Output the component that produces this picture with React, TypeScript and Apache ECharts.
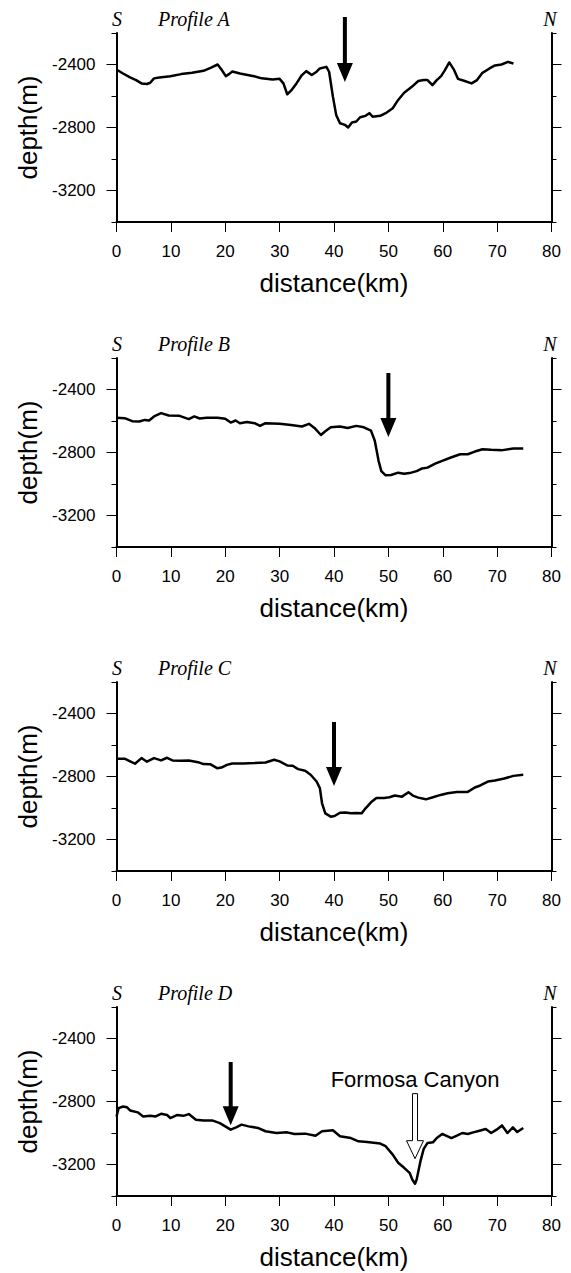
import React, { useEffect, useRef } from "react";
import * as echarts from "echarts";

// ---------- data ----------
const panelNames = ["Profile A", "Profile B", "Profile C", "Profile D"];
const yMajorTicks = [-3200, -2800, -2400];
const yMinorTicks = [-3400, -3000, -2600, -2200];

const distA = [0, 1.2, 2.5, 3.6, 4.6, 5.6, 6.2, 6.9, 7.9, 9.9, 11.9, 13.9, 16, 17.3, 18.6, 19.3, 20.1, 20.7, 21.3, 22.7, 25.3, 26.7, 28.7, 30.0, 30.7, 31.4, 32.1, 33.1, 34.1, 34.9, 35.9, 36.8, 37.4, 38.6, 39.1, 39.8, 40.4, 41.1, 42.0, 42.6, 43.3, 44.1, 44.8, 45.8, 46.5, 47.1, 48.5, 49.5, 50.8, 51.8, 52.9, 54.2, 55.5, 56.5, 57.2, 58.1, 58.9, 59.7, 60.4, 61.2, 62.1, 62.8, 63.9, 65.3, 66.3, 67.3, 68.6, 69.6, 70.8, 72.0, 73.0];
const depthA = [-2432, -2457, -2482, -2499, -2520, -2524, -2516, -2488, -2482, -2474, -2461, -2453, -2440, -2421, -2400, -2432, -2474, -2461, -2444, -2457, -2474, -2488, -2495, -2491, -2520, -2589, -2566, -2520, -2467, -2442, -2467, -2446, -2425, -2415, -2446, -2604, -2720, -2773, -2783, -2800, -2768, -2762, -2735, -2726, -2709, -2731, -2726, -2709, -2678, -2625, -2579, -2545, -2505, -2499, -2499, -2531, -2499, -2474, -2436, -2387, -2436, -2491, -2503, -2520, -2499, -2453, -2425, -2406, -2400, -2383, -2394];

const distB = [0, 1.5, 2.9, 4.2, 5.2, 6.0, 6.9, 8.2, 9.6, 11.6, 13.3, 14.3, 15.3, 16.6, 18.6, 20.0, 21.0, 21.9, 22.7, 24.0, 25.4, 26.4, 27.4, 30.0, 32.1, 34.1, 35.4, 36.4, 37.6, 38.4, 39.4, 41.1, 42.5, 44.1, 45.5, 46.8, 47.5, 48.2, 48.7, 49.5, 50.5, 51.8, 52.9, 54.2, 55.2, 56.2, 57.2, 58.6, 59.9, 61.5, 63.2, 64.6, 65.9, 67.3, 68.9, 71.0, 73.0, 74.8];
const depthB = [-2580, -2582, -2601, -2603, -2593, -2597, -2571, -2550, -2565, -2567, -2588, -2571, -2584, -2580, -2580, -2586, -2610, -2597, -2614, -2607, -2614, -2631, -2614, -2618, -2625, -2635, -2618, -2644, -2689, -2665, -2640, -2635, -2644, -2631, -2640, -2661, -2725, -2853, -2918, -2945, -2943, -2928, -2935, -2928, -2918, -2901, -2896, -2871, -2853, -2832, -2811, -2811, -2794, -2779, -2783, -2785, -2774, -2774];

const distC = [0, 1.5, 2.5, 3.4, 4.6, 5.6, 6.9, 8.2, 9.3, 10.3, 11.9, 13.3, 15.0, 16.0, 17.3, 18.5, 19.3, 20.3, 21.3, 23.3, 25.4, 27.4, 29.0, 30.0, 31.4, 32.4, 33.4, 34.7, 35.7, 36.8, 37.4, 37.8, 38.4, 39.4, 40.1, 41.1, 42.1, 43.1, 44.1, 45.1, 45.8, 46.8, 47.8, 49.2, 50.2, 51.2, 52.5, 53.7, 54.5, 55.5, 56.9, 58.2, 59.6, 60.9, 62.6, 64.6, 65.9, 66.9, 68.3, 69.6, 71.3, 73.0, 74.8];
const depthC = [-2687, -2687, -2704, -2719, -2683, -2706, -2683, -2698, -2681, -2698, -2700, -2698, -2709, -2721, -2723, -2747, -2743, -2726, -2717, -2717, -2715, -2711, -2694, -2704, -2730, -2732, -2753, -2764, -2789, -2832, -2874, -2970, -3034, -3055, -3051, -3030, -3028, -3034, -3032, -3034, -3002, -2964, -2936, -2936, -2932, -2921, -2928, -2900, -2921, -2934, -2945, -2932, -2917, -2906, -2898, -2898, -2870, -2857, -2832, -2826, -2813, -2796, -2789];

const distD = [0, 0.4, 1.2, 1.9, 2.5, 3.9, 4.9, 6.2, 7.2, 8.2, 9.3, 9.9, 11.1, 12.3, 13.3, 14.6, 16.0, 17.6, 19.0, 20.0, 21.0, 22.0, 23.0, 24.3, 26.0, 27.4, 29.4, 31.4, 32.7, 34.7, 36.6, 37.8, 39.8, 41.1, 43.1, 44.5, 46.1, 48.5, 49.5, 50.8, 51.8, 52.9, 53.9, 54.4, 54.9, 55.2, 55.9, 56.5, 57.2, 58.2, 58.9, 59.9, 60.6, 61.6, 62.6, 63.6, 64.6, 65.6, 66.6, 67.9, 68.9, 69.9, 70.9, 71.9, 72.9, 73.7, 74.8];
const depthD = [-2895, -2842, -2832, -2836, -2857, -2869, -2895, -2891, -2895, -2878, -2886, -2905, -2886, -2891, -2880, -2916, -2920, -2920, -2937, -2958, -2979, -2964, -2947, -2958, -2968, -2989, -3000, -2996, -3006, -3004, -3017, -2989, -2983, -3021, -3032, -3053, -3057, -3067, -3084, -3137, -3189, -3221, -3253, -3295, -3322, -3295, -3179, -3101, -3063, -3059, -3032, -3006, -3017, -3032, -3017, -3000, -3006, -2996, -2987, -2975, -3000, -2979, -2952, -3000, -2964, -2994, -2968];

// black arrows (one per panel): distance, shaft top depth, tip depth
const arrowDist = [42, 50, 40, 21];
const arrowTop = [-2098, -2295, -2454, -2549];
const arrowTip = [-2511, -2702, -2860, -2951];

// hollow arrow + label in Profile D
const canyonLabel = "Formosa Canyon";
const canyonArrow = [54.9, -2750, -3163];
const canyonLabelPos = [54.9, -2660];

const dists = [distA, distB, distC, distD];
const depths = [depthA, depthB, depthC, depthD];

// ---------- layout ----------
const GRID_LEFT = 116.5;
const GRID_WIDTH = 435;
const GRID_HEIGHT = 189;
const GRID_TOPS = [33, 358, 682, 1007];
const SANS = "Liberation Sans";
const SERIF = "Liberation Serif";

function renderArrow(params: any, api: any) {
  const top = api.coord([api.value(0), api.value(1)]);
  const tip = api.coord([api.value(0), api.value(2)]);
  const hollow = api.value(3) === 1;
  const x = top[0];
  const sw = hollow ? 2.5 : 2;
  const hw = hollow ? 8.5 : 8;
  const hl = hollow ? 18 : 19;
  const yH = tip[1] - hl;
  return {
    type: "polygon",
    shape: {
      points: [
        [x - sw, top[1]],
        [x + sw, top[1]],
        [x + sw, yH],
        [x + hw, yH],
        [x, tip[1]],
        [x - hw, yH],
        [x - sw, yH],
      ],
    },
    style: {
      fill: hollow ? "#fff" : "#000",
      stroke: "#000",
      lineWidth: hollow ? 1 : 0,
    },
  };
}

function renderLabel(params: any, api: any) {
  const p = api.coord([api.value(0), api.value(1)]);
  return {
    type: "text",
    x: p[0],
    y: p[1],
    style: {
      text: canyonLabel,
      font: `22px "${SANS}"`,
      fill: "#000",
      align: "center",
      verticalAlign: "middle",
    },
  };
}

function buildOption() {
  const grid: any[] = [];
  const xAxis: any[] = [];
  const yAxis: any[] = [];
  const series: any[] = [];
  const graphic: any[] = [];

  for (let i = 0; i < 4; i++) {
    const top = GRID_TOPS[i];
    grid.push({ left: GRID_LEFT, top, width: GRID_WIDTH, height: GRID_HEIGHT, containLabel: false });
    xAxis.push({
      type: "value",
      gridIndex: i,
      min: 0,
      max: 80,
      interval: 10,
      position: "bottom",
      axisLine: { show: true, onZero: false, lineStyle: { color: "#000", width: 2 } },
      axisTick: { show: true, inside: false, length: 10, lineStyle: { color: "#000", width: 1 } },
      axisLabel: { show: true, margin: 21, color: "#000", fontSize: 17, fontFamily: SANS, formatter: (v: number) => String(v) },
      splitLine: { show: false },
      name: "distance(km)",
      nameLocation: "middle",
      nameGap: 48,
      nameTextStyle: { color: "#000", fontSize: 26, fontFamily: SANS },
    });
    const base = { type: "value", gridIndex: i, min: -3400, max: -2200, splitLine: { show: false } };
    // left major (labels)
    yAxis.push({
      ...base,
      position: "left",
      axisLine: { show: true, onZero: false, lineStyle: { color: "#000", width: 2 } },
      axisTick: { show: true, length: 10, customValues: yMajorTicks, lineStyle: { color: "#000", width: 1 } },
      axisLabel: {
        show: true,
        customValues: yMajorTicks,
        margin: 21,
        color: "#000",
        fontSize: 17,
        fontFamily: SANS,
        formatter: (v: number) => String(v),
      },
      name: "depth(m)",
      nameLocation: "middle",
      nameGap: 75,
      nameTextStyle: { color: "#000", fontSize: 26, fontFamily: SANS },
    });
    // left minor
    yAxis.push({
      ...base,
      position: "left",
      axisLine: { show: false },
      axisTick: { show: true, length: 5, customValues: yMinorTicks, lineStyle: { color: "#000", width: 1 } },
      axisLabel: { show: false },
    });
    // right major
    yAxis.push({
      ...base,
      position: "right",
      axisLine: { show: true, onZero: false, lineStyle: { color: "#000", width: 2 } },
      axisTick: { show: true, length: 10, customValues: yMajorTicks, lineStyle: { color: "#000", width: 1 } },
      axisLabel: { show: false },
    });
    // right minor
    yAxis.push({
      ...base,
      position: "right",
      axisLine: { show: false },
      axisTick: { show: true, length: 5, customValues: yMinorTicks, lineStyle: { color: "#000", width: 1 } },
      axisLabel: { show: false },
    });

    series.push({
      type: "line",
      xAxisIndex: i,
      yAxisIndex: i * 4,
      data: dists[i].map((d, k) => [d, depths[i][k]]),
      showSymbol: false,
      symbol: "none",
      lineStyle: { color: "#000", width: 2.5, join: "round" },
      silent: true,
      z: 3,
    });

    const arrowData: any[] = [[arrowDist[i], arrowTop[i], arrowTip[i], 0]];
    if (i === 3) arrowData.push([canyonArrow[0], canyonArrow[1], canyonArrow[2], 1]);
    series.push({
      type: "custom",
      xAxisIndex: i,
      yAxisIndex: i * 4,
      clip: false,
      renderItem: renderArrow,
      data: arrowData,
      z: 5,
      silent: true,
    });
    if (i === 3) {
      series.push({
        type: "custom",
        xAxisIndex: i,
        yAxisIndex: i * 4,
        clip: false,
        renderItem: renderLabel,
        data: [canyonLabelPos],
        z: 5,
        silent: true,
      });
    }

    const ty = top - 14;
    graphic.push(
      { type: "text", x: 117, y: ty, style: { text: "S", font: `italic 20px "${SERIF}"`, fill: "#000", align: "center", verticalAlign: "middle" } },
      { type: "text", x: 158, y: ty, style: { text: panelNames[i], font: `italic 20px "${SERIF}"`, fill: "#000", align: "left", verticalAlign: "middle" } },
      { type: "text", x: 550, y: ty, style: { text: "N", font: `italic 20px "${SERIF}"`, fill: "#000", align: "center", verticalAlign: "middle" } }
    );
  }

  return {
    animation: false,
    backgroundColor: "#fff",
    grid,
    xAxis,
    yAxis,
    series,
    graphic,
  };
}

export default function App() {
  const ref = useRef<HTMLDivElement>(null);
  useEffect(() => {
    if (!ref.current) return;
    const chart = echarts.init(ref.current, undefined, { renderer: "svg" });
    chart.setOption(buildOption() as any);
    return () => chart.dispose();
  }, []);
  return (
    <div
      ref={ref}
      style={{ position: "absolute", left: 0, top: 0, width: 571, height: 1273, background: "#fff" }}
    />
  );
}
